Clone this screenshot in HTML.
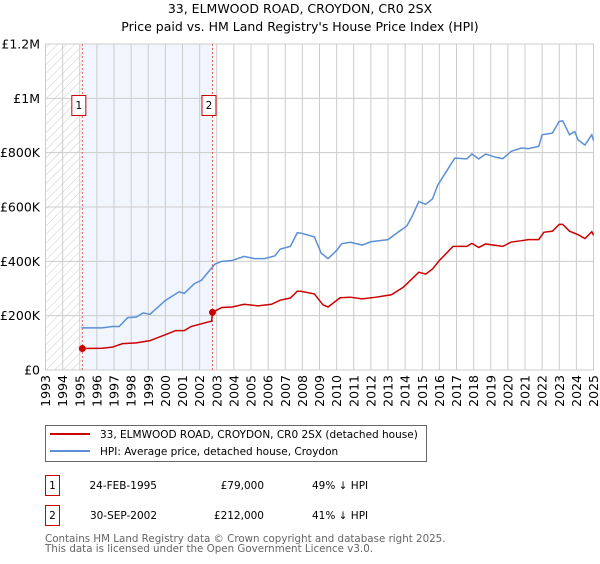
<!DOCTYPE html>
<html><head><meta charset="utf-8"><style>
body{margin:0;background:#fff;font-family:"DejaVu Sans","Liberation Sans",sans-serif;}
svg text{font-family:"DejaVu Sans","Liberation Sans",sans-serif;}
</style></head><body>
<svg id="chart" width="600" height="560" viewBox="0 0 600 560" xmlns="http://www.w3.org/2000/svg">
<defs><pattern id="hatch" width="6" height="6" patternUnits="userSpaceOnUse" patternTransform="rotate(45)"><line x1="0" y1="0" x2="0" y2="6" stroke="#ccc" stroke-width="1"/></pattern></defs>
<text x="300" y="13" font-size="12.5" text-anchor="middle" fill="#000">33, ELMWOOD ROAD, CROYDON, CR0 2SX</text>
<text x="300" y="31" font-size="12.5" text-anchor="middle" fill="#000">Price paid vs. HM Land Registry's House Price Index (HPI)</text>
<g id="plot"></g>
<g>
<rect x="45.5" y="425.5" width="381" height="36" fill="#fff" stroke="#666"/>
<line x1="50" y1="434" x2="90" y2="434" stroke="#cc0000" stroke-width="2"/>
<text x="100" y="438" font-size="10.5">33, ELMWOOD ROAD, CROYDON, CR0 2SX (detached house)</text>
<line x1="50" y1="451" x2="90" y2="451" stroke="#5b8fd6" stroke-width="2"/>
<text x="100" y="455" font-size="10.5">HPI: Average price, detached house, Croydon</text>
</g>
<g font-size="10.5">
<rect x="45.5" y="475.5" width="14" height="20" fill="#fff" stroke="#cc0000"/>
<text x="52.5" y="489" text-anchor="middle">1</text>
<text x="157" y="489" text-anchor="end">24-FEB-1995</text>
<text x="264" y="489" text-anchor="end">£79,000</text>
<text x="312" y="489">49% ↓ HPI</text>
<rect x="45.5" y="505.5" width="14" height="20" fill="#fff" stroke="#cc0000"/>
<text x="52.5" y="519" text-anchor="middle">2</text>
<text x="157" y="519" text-anchor="end">30-SEP-2002</text>
<text x="264" y="519" text-anchor="end">£212,000</text>
<text x="312" y="519">41% ↓ HPI</text>
</g>
<text x="45" y="542" font-size="10.3" fill="#666">Contains HM Land Registry data © Crown copyright and database right 2025.</text>
<text x="45" y="552" font-size="10.3" fill="#666">This data is licensed under the Open Government Licence v3.0.</text>
</svg>
<script>
const yTicks=[0,200000,400000,600000,800000,1000000,1200000];
const yTickLabels=["£0","£200K","£400K","£600K","£800K","£1M","£1.2M"];
const years=[1993,1994,1995,1996,1997,1998,1999,2000,2001,2002,2003,2004,2005,2006,2007,2008,2009,2010,2011,2012,2013,2014,2015,2016,2017,2018,2019,2020,2021,2022,2023,2024,2025];
const hpiDates=[1995.1,1996.3,1996.9,1997.3,1997.8,1998.3,1998.7,1999.1,2000.0,2000.8,2001.1,2001.7,2002.1,2002.9,2003.3,2003.9,2004.6,2005.2,2005.8,2006.4,2006.7,2007.3,2007.7,2007.9,2008.7,2009.1,2009.5,2010.0,2010.3,2010.8,2011.5,2012.0,2013.0,2013.6,2014.1,2014.4,2014.8,2015.2,2015.6,2015.9,2016.4,2016.9,2017.6,2017.9,2018.3,2018.7,2019.3,2019.7,2020.2,2020.8,2021.2,2021.8,2022.0,2022.6,2023.0,2023.2,2023.6,2023.9,2024.1,2024.5,2024.9,2025.0];
const hpiValues=[155,155,160,160,193,195,210,205,256,288,282,318,330,390,400,403,418,410,410,420,445,455,505,504,490,430,410,440,465,470,460,472,480,508,530,565,620,610,630,680,730,780,777,795,777,795,783,778,805,817,815,823,866,872,915,917,866,878,847,828,866,845];
const priceDates=[1995.15,1996.3,1996.9,1997.5,1998.3,1999.1,2000.0,2000.6,2001.1,2001.5,2002.4,2002.7,2002.75,2003.3,2003.9,2004.6,2005.4,2006.2,2006.7,2007.3,2007.7,2007.9,2008.7,2009.2,2009.5,2010.2,2010.8,2011.5,2012.3,2013.2,2013.9,2014.8,2015.2,2015.6,2016.0,2016.8,2017.6,2017.9,2018.3,2018.7,2019.7,2020.2,2020.8,2021.2,2021.8,2022.1,2022.6,2023.0,2023.2,2023.6,2024.1,2024.5,2024.9,2025.0];
const priceValues=[79,80,84,97,100,108,130,145,145,160,175,180,212,230,232,242,236,242,257,265,290,290,280,240,232,266,268,262,268,277,305,360,353,372,403,455,455,466,451,464,455,471,476,480,480,507,511,536,536,511,498,484,509,496];
const saleDates=[1995.15,2002.75];
const saleValues=[79000,212000];
const saleLabels=["1","2"];
const X0=45.5,X1=593.5,Y0=370,Y1=44;
const xs=y=>X0+(y-1993)/(2025-1993)*(X1-X0);
const ys=v=>Y0-v/1200000*(Y0-Y1);
const NS="http://www.w3.org/2000/svg";
const plot=document.getElementById('plot');
function mk(t,a){const e=document.createElementNS(NS,t);for(const k in a)e.setAttribute(k,a[k]);plot.appendChild(e);return e;}
let e;
e=mk('rect',{x:X0,y:Y1,width:xs(saleDates[0])-X0,height:Y0-Y1,fill:'url(#hatch)'});


e=mk('rect',{x:xs(saleDates[0]),y:Y1,width:xs(saleDates[1])-xs(saleDates[0]),height:Y0-Y1,fill:'#eef3fc',opacity:0.8});


years.forEach(y=>{
 e=mk('line',{x1:xs(y),x2:xs(y),y1:Y1,y2:Y0,stroke:'#ccc','stroke-width':1});
 
 
 e=mk('text',{x:0,y:0,'font-size':12.5,'text-anchor':'end',transform:`translate(${xs(y)+4.5},${Y0+5}) rotate(-90)`});
 e.textContent=y;
 
 
});
yTicks.forEach((v,i)=>{
 e=mk('line',{x1:X0,x2:X1,y1:ys(v),y2:ys(v),stroke:'#ccc','stroke-width':1});
 
 
 e=mk('text',{x:40,y:ys(v)+4.5,'font-size':12.5,'text-anchor':'end'});
 e.textContent=yTickLabels[i];
 
 
});
saleDates.forEach((d,i)=>{
 e=mk('line',{x1:xs(d),x2:xs(d),y1:Y1,y2:Y0,stroke:'#e06060','stroke-width':1,'stroke-dasharray':'2,2'});
 
 
});
e=mk('polyline',{points:hpiDates.map((d,i)=>xs(d)+','+ys(hpiValues[i]*1000)).join(' '),fill:'none',stroke:'#5b8fd6','stroke-width':1.5});


e=mk('polyline',{points:priceDates.map((d,i)=>xs(d)+','+ys(priceValues[i]*1000)).join(' '),fill:'none',stroke:'#cc0000','stroke-width':1.5});


saleDates.forEach((d,i)=>{
 e=mk('circle',{cx:xs(d),cy:ys(saleValues[i]),r:3.5,fill:'#cc0000'});
 
 
 e=mk('rect',{x:xs(d)-10.5,y:95.5,width:14,height:20,fill:'#fff',stroke:'#cc0000'});
 
 
 e=mk('text',{x:xs(d)-3.5,y:109,'font-size':10.5,'text-anchor':'middle'});
 e.textContent=saleLabels[i];
 
 
});
</script>
</body></html>
